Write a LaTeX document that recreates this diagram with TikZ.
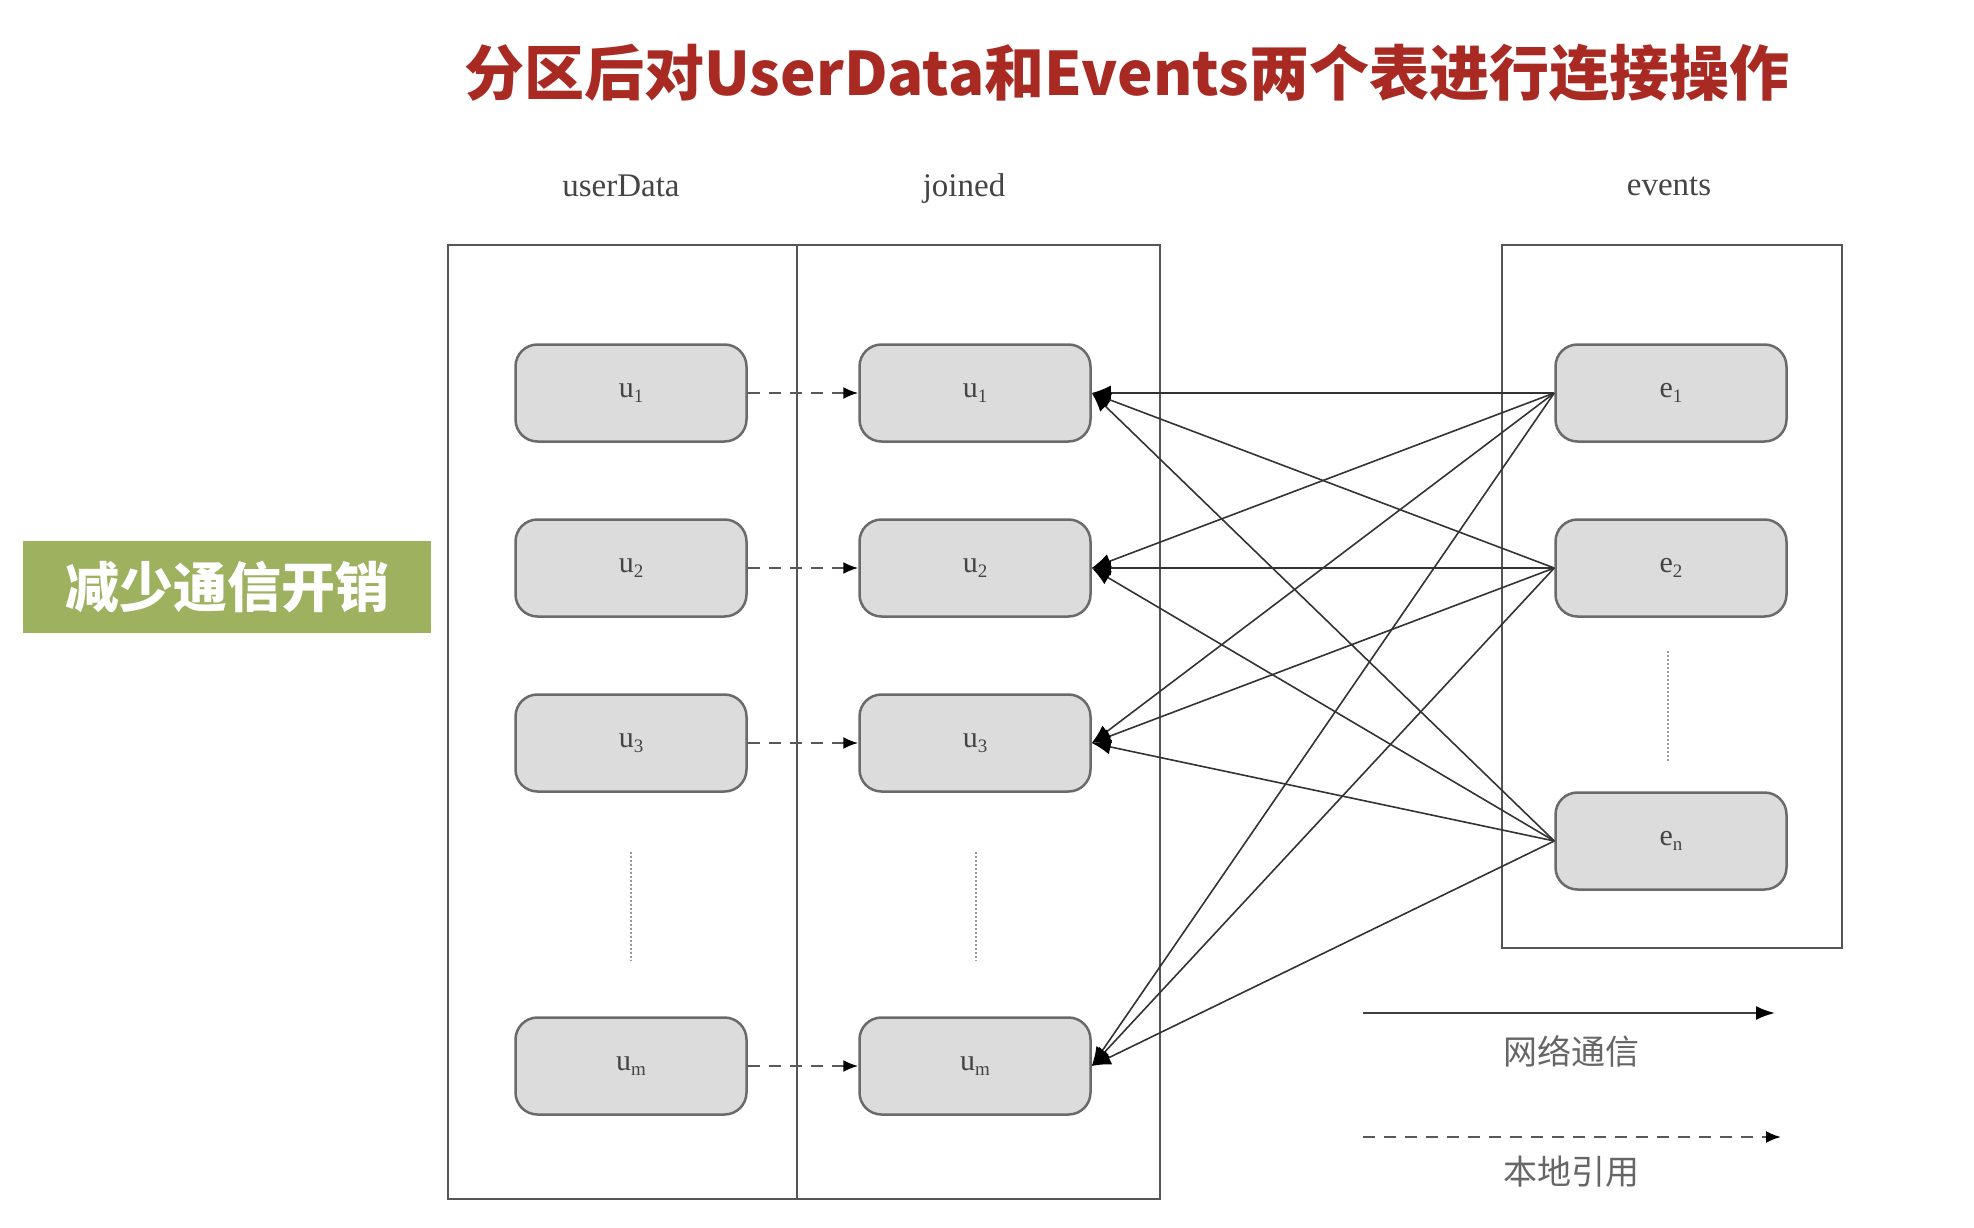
\documentclass[tikz,border=0pt]{standalone}
\usepackage{fontspec}
\setmainfont{Liberation Serif}
\newfontfamily\cjk{Noto Sans CJK SC}
\usetikzlibrary{arrows.meta}
\definecolor{titlered}{HTML}{A82A22}
\definecolor{greenbox}{HTML}{9DB15F}
\definecolor{nodefill}{HTML}{DCDCDC}
\definecolor{nodeline}{HTML}{6A6A6A}
\definecolor{boxline}{HTML}{555555}
\definecolor{txtgray}{HTML}{444444}
\newcommand\sublab[2]{#1\raisebox{-0.35ex}{\fontsize{19}{19}\selectfont #2}}
\begin{document}
\begin{tikzpicture}[x=1pt,y=-1pt,
  ubox/.style={draw=nodeline, line width=2.5pt, fill=nodefill, rounded corners=22pt,
    minimum width=231pt, minimum height=97pt, inner sep=0pt,
    font=\fontsize{30}{30}\selectfont, text=txtgray},
  frame/.style={draw=boxline, line width=2.2pt},
  net/.style={draw=black!80, line width=1.6pt, -{Latex[length=19pt,width=15pt,black]}},
  loc/.style={draw=black!65, line width=2.2pt, dash pattern=on 12pt off 9pt, -{Latex[length=15pt,width=12pt,black]}},
  dots/.style={draw=black!40, line width=1.2pt, dash pattern=on 2pt off 2pt},
  collab/.style={font=\fontsize{33}{33}\selectfont, text=txtgray},
  leglab/.style={font=\cjk\fontsize{34}{34}\selectfont, text=black!60}]
\useasboundingbox (0,0) rectangle (1974,1228);
% title
\node[font=\cjk\bfseries\fontsize{60}{60}\selectfont, text=titlered] (title) at (1127,73) {分区后对UserData和Events两个表进行连接操作};
% green label
\node[fill=greenbox, minimum width=408pt, minimum height=92pt, inner sep=0pt,
  font=\cjk\bfseries\fontsize{54}{54}\selectfont, text=white] (gbox) at (227,587) {减少通信开销};
% column labels
\node[collab] (lu) at (621,186) {userData};
\node[collab] (lj) at (964,189) {joined};
\node[collab] (le) at (1669,186) {events};
% frames
\draw[frame] (448,245) rectangle (1160,1199);
\draw[frame] (797,245) -- (797,1199);
\draw[frame] (1502,245) rectangle (1842,948);
% left nodes
\node[ubox] (a1) at (631,393) {\sublab{u}{1}};
\node[ubox] (a2) at (631,568) {\sublab{u}{2}};
\node[ubox] (a3) at (631,743) {\sublab{u}{3}};
\node[ubox] (am) at (631,1066) {\sublab{u}{m}};
% joined nodes
\node[ubox] (j1) at (975,393) {\sublab{u}{1}};
\node[ubox] (j2) at (975,568) {\sublab{u}{2}};
\node[ubox] (j3) at (975,743) {\sublab{u}{3}};
\node[ubox] (jm) at (975,1066) {\sublab{u}{m}};
% event nodes
\node[ubox] (e1) at (1671,393) {\sublab{e}{1}};
\node[ubox] (e2) at (1671,568) {\sublab{e}{2}};
\node[ubox] (en) at (1671,841) {\sublab{e}{n}};
% dotted ellipsis lines
\coordinate (d1a) at (631,852); \coordinate (d1b) at (631,961);
\coordinate (d2a) at (976,852); \coordinate (d2b) at (976,961);
\coordinate (d3a) at (1668,651); \coordinate (d3b) at (1668,762);
\draw[dots] (d1a) -- (d1b);
\draw[dots] (d2a) -- (d2b);
\draw[dots] (d3a) -- (d3b);
% local references
\draw[loc] (a1.east) -- (j1.west);
\draw[loc] (a2.east) -- (j2.west);
\draw[loc] (a3.east) -- (j3.west);
\draw[loc] (am.east) -- (jm.west);
% network communication
\foreach \e in {e1,e2,en}{
  \foreach \j in {j1,j2,j3,jm}{
    \draw[net] (\e.west) -- (\j.east);
  }
}
% legend
\coordinate (ls1) at (1363,1013); \coordinate (le1) at (1775,1013);
\coordinate (ls2) at (1363,1137); \coordinate (le2) at (1781,1137);
\draw[draw=black!75, line width=2.2pt, -{Latex[length=19pt,width=14pt,black]}] (ls1) -- (le1);
\draw[loc] (ls2) -- (le2);
\node[leglab] (t1) at (1571,1051) {网络通信};
\node[leglab] (t2) at (1571,1172) {本地引用};
\end{tikzpicture}
\end{document}
